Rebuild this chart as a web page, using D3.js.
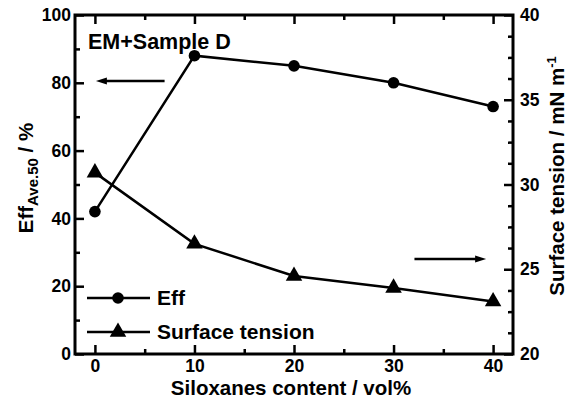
<!DOCTYPE html>
<html>
<head>
<meta charset="utf-8">
<script src="https://cdn.jsdelivr.net/npm/d3@7"></script>
<style>
  html, body { margin: 0; padding: 0; background: #fff; }
  svg { display: block; font-family: Arial, "Liberation Sans", Helvetica, sans-serif; font-weight: bold; }
</style>
</head>
<body>
<svg id="chart" width="572" height="403"></svg>
<script>
// Siloxanes content (vol%)
const siloxanes = [0, 10, 20, 30, 40];
// Average efficiency (left axis, %)
const effValues = [42, 88, 85, 80, 73];
// Surface tension (right axis, mN/m)
const tensionValues = [30.7, 26.5, 24.6, 23.9, 23.1];

const xTicks = [0, 10, 20, 30, 40];
const xMinorTicks = [5, 15, 25, 35];
const yLeftTicks = [0, 20, 40, 60, 80, 100];
const yLeftMinorTicks = [10, 30, 50, 70, 90];
const yRightTicks = [20, 25, 30, 35, 40];
const yRightMinorTicks = [21.25, 22.5, 23.75, 26.25, 27.5, 28.75, 31.25, 32.5, 33.75, 36.25, 37.5, 38.75];

const svg = d3.select("#chart");
const margin = { left: 75, right: 59, top: 15, bottom: 49 };
const W = 572, H = 403;
const x0 = margin.left, x1 = W - margin.right, y0 = margin.top, y1 = H - margin.bottom;

const x = d3.scaleLinear().domain([-2, 42]).range([x0, x1]);
const yL = d3.scaleLinear().domain([0, 100]).range([y1, y0]);
const yR = d3.scaleLinear().domain([20, 40]).range([y1, y0]);

const tickFont = 17.5;
const major = 9, minor = 5;

function styleAxis(g) {
  g.selectAll(".domain").remove();
  g.selectAll(".tick line").attr("stroke", "#000").attr("stroke-width", 2.5);
  g.selectAll(".tick text").attr("font-size", tickFont).attr("font-weight", "bold").attr("fill", "#000");
}

// Bottom axis (ticks point into the plot)
svg.append("g").attr("transform", `translate(0,${y1})`)
  .call(d3.axisBottom(x).tickValues(xTicks).tickSizeInner(-major).tickSizeOuter(0).tickPadding(10))
  .call(styleAxis)
  .call(g => g.selectAll(".tick text").attr("dy", "0.71em").attr("y", 6));
svg.append("g").attr("transform", `translate(0,${y1})`)
  .call(d3.axisBottom(x).tickValues(xMinorTicks).tickSize(-minor).tickFormat(""))
  .call(styleAxis);
// Top axis
svg.append("g").attr("transform", `translate(0,${y0})`)
  .call(d3.axisTop(x).tickValues(xTicks).tickSize(-major).tickFormat(""))
  .call(styleAxis);
svg.append("g").attr("transform", `translate(0,${y0})`)
  .call(d3.axisTop(x).tickValues(xMinorTicks).tickSize(-minor).tickFormat(""))
  .call(styleAxis);
// Left axis
svg.append("g").attr("transform", `translate(${x0},0)`)
  .call(d3.axisLeft(yL).tickValues(yLeftTicks).tickSizeInner(-major).tickSizeOuter(0).tickPadding(4))
  .call(styleAxis)
  .call(g => g.selectAll(".tick text").attr("x", -4));
svg.append("g").attr("transform", `translate(${x0},0)`)
  .call(d3.axisLeft(yL).tickValues(yLeftMinorTicks).tickSize(-minor).tickFormat(""))
  .call(styleAxis);
// Right axis
svg.append("g").attr("transform", `translate(${x1},0)`)
  .call(d3.axisRight(yR).tickValues(yRightTicks).tickSizeInner(-major).tickSizeOuter(0))
  .call(styleAxis)
  .call(g => g.selectAll(".tick text").attr("x", 7));
svg.append("g").attr("transform", `translate(${x1},0)`)
  .call(d3.axisRight(yR).tickValues(yRightMinorTicks).tickSize(-minor).tickFormat(""))
  .call(styleAxis);

// Plot frame
svg.append("rect")
  .attr("x", x0).attr("y", y0).attr("width", x1 - x0).attr("height", y1 - y0)
  .attr("fill", "none").attr("stroke", "#000").attr("stroke-width", 3);

// Efficiency series
const effPts = siloxanes.map((s, i) => [s, effValues[i]]);
svg.append("path").datum(effPts)
  .attr("fill", "none").attr("stroke", "#000").attr("stroke-width", 2.5)
  .attr("d", d3.line().x(d => x(d[0])).y(d => yL(d[1])));
svg.selectAll(".eff-pt").data(effPts).join("circle")
  .attr("class", "eff-pt")
  .attr("cx", d => x(d[0])).attr("cy", d => yL(d[1])).attr("r", 5.8).attr("fill", "#000");

// Surface tension series
const stPts = siloxanes.map((s, i) => [s, tensionValues[i]]);
const tri = d3.symbol().type(d3.symbolTriangle).size(118);
svg.append("path").datum(stPts)
  .attr("fill", "none").attr("stroke", "#000").attr("stroke-width", 2.5)
  .attr("d", d3.line().x(d => x(d[0])).y(d => yR(d[1])));
svg.selectAll(".st-pt").data(stPts).join("path")
  .attr("class", "st-pt")
  .attr("transform", d => `translate(${x(d[0])},${yR(d[1])})`)
  .attr("d", tri).attr("fill", "#000");

// Arrows pointing to the axis each series belongs to
function arrow(xa, xb, y) {
  const dir = Math.sign(xb - xa);
  svg.append("line").attr("x1", xa).attr("x2", xb - dir * 8).attr("y1", y).attr("y2", y)
    .attr("stroke", "#000").attr("stroke-width", 2.5);
  svg.append("path")
    .attr("d", `M${xb},${y} L${xb - dir * 11},${y - 3.5} L${xb - dir * 11},${y + 3.5} Z`)
    .attr("fill", "#000");
}
arrow(x(7), x(0.1), yL(80.5));
arrow(x(32.1), x(39.3), yR(25.6));

// Sample label
svg.append("text").attr("x", 88).attr("y", 49).attr("font-size", 21.5).attr("fill", "#000")
  .text("EM+Sample D");

// Legend
const legend = svg.append("g");
const legendItems = [
  { label: "Eff", shape: "circle", y: 298 },
  { label: "Surface tension", shape: "triangle", y: 332 }
];
legendItems.forEach(item => {
  legend.append("line").attr("x1", 87).attr("x2", 150).attr("y1", item.y).attr("y2", item.y)
    .attr("stroke", "#000").attr("stroke-width", 2.5);
  if (item.shape === "circle") {
    legend.append("circle").attr("cx", 118).attr("cy", item.y).attr("r", 5.8).attr("fill", "#000");
  } else {
    legend.append("path").attr("transform", `translate(118,${item.y})`).attr("d", tri).attr("fill", "#000");
  }
  legend.append("text").attr("x", 157).attr("y", item.y + 7).attr("font-size", 21).attr("fill", "#000")
    .text(item.label);
});

// Axis titles
svg.append("text")
  .attr("x", 291).attr("y", 395).attr("text-anchor", "middle")
  .attr("font-size", 20.5).attr("fill", "#000")
  .text("Siloxanes content / vol%");

const leftTitle = svg.append("text")
  .attr("transform", `translate(33,${178}) rotate(-90)`)
  .attr("text-anchor", "middle").attr("font-size", 20.5).attr("fill", "#000");
leftTitle.append("tspan").text("Eff");
leftTitle.append("tspan").attr("font-size", 15).attr("dy", 5).text("Ave.50");
leftTitle.append("tspan").attr("dy", -5).text(" / %");

const rightTitle = svg.append("text")
  .attr("transform", `translate(564,${176}) rotate(-90)`)
  .attr("text-anchor", "middle").attr("font-size", 20.5).attr("fill", "#000");
rightTitle.append("tspan").text("Surface tension / mN m");
rightTitle.append("tspan").attr("font-size", 13).attr("dy", -8).text("-1");
</script>
</body>
</html>
